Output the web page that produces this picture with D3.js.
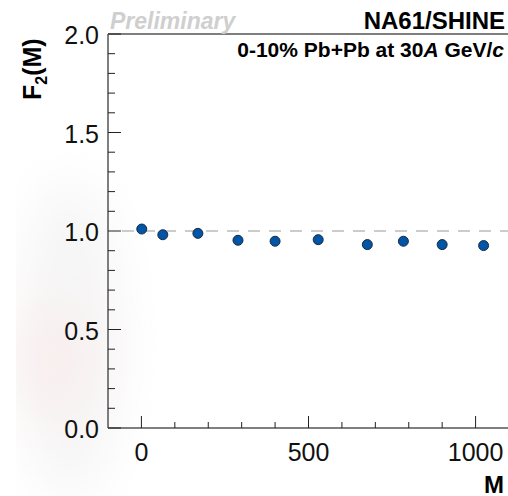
<!DOCTYPE html>
<html>
<head>
<meta charset="utf-8">
<script src="https://cdn.jsdelivr.net/npm/d3@7"></script>
<style>
  body { margin: 0; background: #fff; }
  text { font-family: "Liberation Sans", Arial, sans-serif; }
</style>
</head>
<body>
<div id="content"></div>
<script>
var width = 508, height = 496

// data
var mValues = [1, 64, 169, 289, 400, 529, 676, 784, 900, 1024]
var f2Values = [1.010, 0.981, 0.988, 0.953, 0.948, 0.956, 0.931, 0.948, 0.931, 0.926]
var xTickLabels = [0, 500, 1000]
var yTickLabels = [0.0, 0.5, 1.0, 1.5, 2.0]

var plotLeft = 108, plotTop = 34, plotRight = 509, plotBottom = 428

var x = d3.scaleLinear().domain([-100, 1100]).range([plotLeft, plotRight])
var y = d3.scaleLinear().domain([0, 2]).range([plotBottom, plotTop])

var svg = d3.select('#content')
    .append('svg')
    .attr('width', width)
    .attr('height', height)

// faint blurry smudge on the left side of the picture
var defs = svg.append('defs')
defs.append('filter').attr('id', 'blur')
    .attr('x', '-80%').attr('y', '-50%').attr('width', '260%').attr('height', '200%')
    .append('feGaussianBlur').attr('stdDeviation', 25)
defs.append('clipPath').attr('id', 'smudgeClip')
    .append('rect').attr('x', 16).attr('y', 0).attr('width', 200).attr('height', height)
var smudge = svg.append('g').attr('clip-path', 'url(#smudgeClip)')
smudge.append('ellipse')
    .attr('cx', 70).attr('cy', 340).attr('rx', 50).attr('ry', 160)
    .attr('fill', '#f6f5f5')
    .attr('filter', 'url(#blur)')
smudge.append('ellipse')
    .attr('cx', 55).attr('cy', 360).attr('rx', 35).attr('ry', 60)
    .attr('fill', '#f9eeee')
    .attr('filter', 'url(#blur)')

// frame lines (left, bottom, top)
svg.append('line')
    .attr('x1', plotLeft).attr('x2', plotLeft).attr('y1', plotTop).attr('y2', plotBottom)
    .attr('stroke', '#555').attr('stroke-width', 1.5)
svg.append('line')
    .attr('x1', plotLeft).attr('x2', plotRight).attr('y1', plotBottom).attr('y2', plotBottom)
    .attr('stroke', '#555').attr('stroke-width', 1.5)
svg.append('line')
    .attr('x1', plotLeft).attr('x2', plotRight).attr('y1', plotTop).attr('y2', plotTop)
    .attr('stroke', '#555').attr('stroke-width', 1.5)

// y ticks (inside)
var yMinor = d3.range(0, 21).map(d => d / 10)
svg.append('g').selectAll('line')
    .data(yMinor)
    .join('line')
    .attr('x1', plotLeft)
    .attr('x2', (d, i) => plotLeft + (i % 5 === 0 ? 13 : 7))
    .attr('y1', d => y(d)).attr('y2', d => y(d))
    .attr('stroke', '#222').attr('stroke-width', 1)

svg.append('g').selectAll('text')
    .data(yTickLabels)
    .join('text')
    .attr('x', 99)
    .attr('y', d => y(d) + 10)
    .attr('text-anchor', 'end')
    .attr('font-size', 25)
    .attr('fill', '#111')
    .text(d => d.toFixed(1))

// x ticks (inside)
var xMinor = d3.range(0, 1001, 100)
svg.append('g').selectAll('line')
    .data(xMinor)
    .join('line')
    .attr('x1', d => x(d)).attr('x2', d => x(d))
    .attr('y1', plotBottom)
    .attr('y2', d => plotBottom - (d % 500 === 0 ? 12 : 6))
    .attr('stroke', '#222').attr('stroke-width', 1)

svg.append('g').selectAll('text')
    .data(xTickLabels)
    .join('text')
    .attr('x', d => x(d))
    .attr('y', 461)
    .attr('text-anchor', 'middle')
    .attr('font-size', 25)
    .attr('fill', '#111')
    .text(d => d)

// reference line at 1
svg.append('line')
    .attr('x1', plotLeft + 14).attr('x2', plotRight)
    .attr('y1', y(1)).attr('y2', y(1))
    .attr('stroke', '#999').attr('stroke-width', 1.2)
    .attr('stroke-dasharray', '12,9')

// points
svg.append('g').selectAll('circle')
    .data(mValues)
    .join('circle')
    .attr('cx', d => x(d))
    .attr('cy', (d, i) => y(f2Values[i]))
    .attr('r', 5)
    .attr('fill', '#0055a6')
    .attr('stroke', '#1a2a40')
    .attr('stroke-width', 1)

// labels
svg.append('text')
    .attr('x', 110).attr('y', 29)
    .attr('font-size', 23)
    .attr('font-weight', 'bold')
    .attr('font-style', 'italic')
    .attr('fill', '#cfcfcf')
    .text('Preliminary')

svg.append('text')
    .attr('x', 505).attr('y', 29)
    .attr('text-anchor', 'end')
    .attr('font-size', 24)
    .attr('font-weight', 'bold')
    .attr('fill', '#000')
    .text('NA61/SHINE')

var sub = svg.append('text')
    .attr('x', 504).attr('y', 57)
    .attr('text-anchor', 'end')
    .attr('font-size', 21)
    .attr('font-weight', 'bold')
    .attr('fill', '#000')
sub.append('tspan').text('0-10% Pb+Pb at 30')
sub.append('tspan').attr('font-style', 'italic').text('A')
sub.append('tspan').text(' GeV/')
sub.append('tspan').attr('font-style', 'italic').text('c')

var ylab = svg.append('text')
    .attr('transform', 'translate(41,100) rotate(-90)')
    .attr('font-size', 25)
    .attr('font-weight', 'bold')
    .attr('fill', '#000')
ylab.append('tspan').text('F')
ylab.append('tspan').attr('font-size', 16).attr('dy', 6).text('2')
ylab.append('tspan').attr('dy', -6).text('(M)')

svg.append('text')
    .attr('x', 504).attr('y', 493)
    .attr('text-anchor', 'end')
    .attr('font-size', 24)
    .attr('font-weight', 'bold')
    .attr('fill', '#000')
    .text('M')
</script>
</body>
</html>
